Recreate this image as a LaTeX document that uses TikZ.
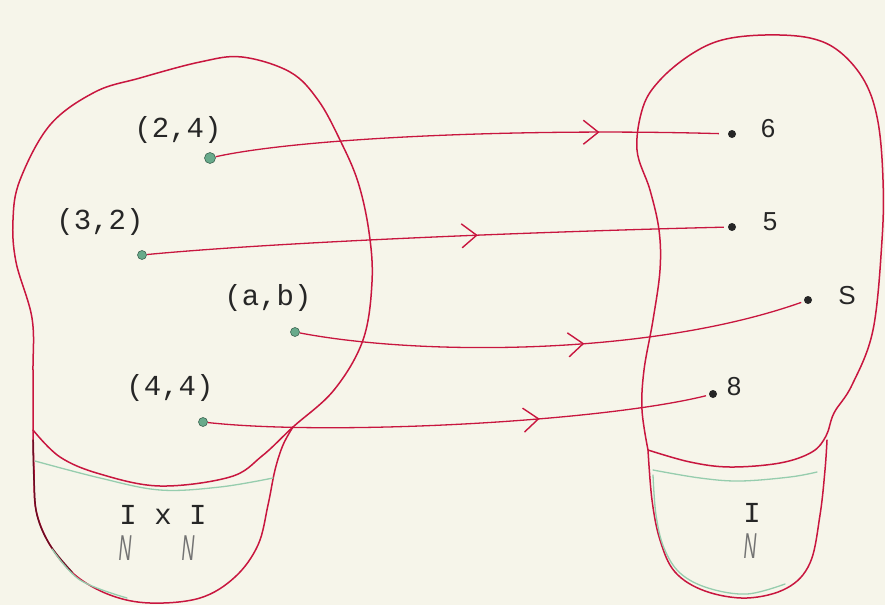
\documentclass[tikz,border=0pt]{standalone}
\usepackage{fontspec}
\setmainfont{Liberation Sans}
\newfontfamily\typew{Liberation Mono}
\usetikzlibrary{decorations.markings,arrows.meta}
\definecolor{bg}{HTML}{F6F5EA}
\definecolor{pen}{HTML}{C8163F}
\definecolor{pgreen}{HTML}{96CDAE}
\definecolor{dotgreen}{HTML}{68AA8B}
\begin{document}
\begin{tikzpicture}[x=1pt,y=-1pt,
  outline/.style={draw=pen, line width=1.5pt, line join=round, line cap=round},
  darkline/.style={draw=pen!55!black, line width=1.5pt, line cap=round},
  greenline/.style={draw=pgreen, line width=1.3pt, line cap=round},
  ldot/.style={circle, fill=dotgreen, draw=dotgreen!60!black, line width=0.6pt, inner sep=0pt, minimum size=9pt},
  rdot/.style={circle, fill=black!85, inner sep=0pt, minimum size=8pt},
  maparrow/.style={draw=pen, line width=1.3pt, postaction={decorate},
    decoration={markings, mark=at position #1 with {\arrow[pen, line width=1.4pt]{Straight Barb[length=15pt,width=24pt]}}}},
  pairlabel/.style={font=\typew\fontsize{29}{30}\selectfont, text=black!85, inner sep=0pt},
  numlabel/.style={font=\fontsize{26}{28}\selectfont, text=black!85, inner sep=0pt},
  setlabel/.style={font=\typew\fontsize{29}{30}\selectfont, text=black!85, inner sep=0pt},
  nlabel/.style={font=\itshape\fontsize{36}{36}\selectfont, text=black!55, inner sep=0pt}]
\fill[bg] (0,0) rectangle (885,605);
\useasboundingbox (0,0) rectangle (885,605);

% ---- left set (I x I) ----
\draw[outline] plot[smooth, tension=0.6] coordinates {
  (33,430) (33,370) (32,318) (16,262) (13,220) (20,180) (50,125) (95,92)
  (140,78) (200,62) (242,57) (290,72) (318,100) (340,140) (358,182)
  (369,232) (372,282) (363,340) (334,390) (293,427) (262,456) (230,477) (160,486)
  (100,474) (60,457) (33,430)};
\draw[outline] plot[smooth, tension=0.6] coordinates {
  (33,430) (34,470) (36,510) (50,545) (75,575) (110,595) (150,603)
  (200,598) (235,577) (258,545) (268,505) (275,470) (283,445) (293,427)};
\draw[darkline] plot[smooth, tension=0.6] coordinates {
  (33,440) (34,480) (37,515) (50,545) (72,572)};
\draw[greenline] plot[smooth, tension=0.6] coordinates {
  (35,461) (100,478) (160,490) (220,487) (273,478)};
\draw[greenline] plot[smooth, tension=0.6] coordinates {
  (52,549) (80,580) (127,598)};

% ---- right set (I) ----
\draw[outline] plot[smooth, tension=0.6] coordinates {
  (648,450) (642,410) (644,370) (653,320) (660,270) (659,230) (650,190)
  (637,150) (643,107) (660,80) (690,55) (722,40) (765,35) (810,38)
  (840,52) (865,82) (878,122) (883,180) (882,240) (873,330) (852,385)
  (834,413) (826,436) (812,452) (780,463) (730,467) (690,462) (648,450)};
\draw[outline] plot[smooth, tension=0.6] coordinates {
  (648,450) (652,500) (660,540) (675,572) (705,591) (747,598) (787,588)
  (810,563) (820,515) (825,470) (827,440)};
\draw[greenline] plot[smooth, tension=0.6] coordinates {
  (653,470) (700,478) (740,481) (790,477) (817,472)};
\draw[greenline] plot[smooth, tension=0.6] coordinates {
  (653,475) (656,515) (664,548) (680,573) (708,588) (747,594) (785,584)};

% ---- points ----
\node[ldot, minimum size=11pt] (p24) at (210,158) {};
\node[ldot] (p32) at (142,255) {};
\node[ldot] (pab) at (295,332) {};
\node[ldot] (p44) at (203,422) {};
\node[pairlabel] (l24) at (178,130) {(2,4)};
\node[pairlabel] (l32) at (100,222) {(3,2)};
\node[pairlabel] (lab) at (268,298) {(a,b)};
\node[pairlabel] (l44) at (170,388) {(4,4)};

\node[rdot] (r6) at (732,134) {};
\node[rdot] (r5) at (732,227) {};
\node[rdot] (rS) at (808,300) {};
\node[rdot] (r8) at (713,394) {};
\node[numlabel] (t6) at (768,129) {6};
\node[numlabel] (t5) at (770,222) {5};
\node[numlabel] (tS) at (847,296) {S};
\node[numlabel] (t8) at (734,387) {8};

% ---- set labels ----
\node[setlabel] (ixi) at (163,515) {I x I};
\node[nlabel] (n1) at (125,548) {\scalebox{0.5}[1]{N}};
\node[nlabel] (n2) at (188,548) {\scalebox{0.5}[1]{N}};
\node[setlabel] (iset) at (752,513) {I};
\node[nlabel] (n3) at (750,546) {\scalebox{0.5}[1]{N}};

% ---- mapping arrows ----
\draw[maparrow=0.75, shorten >=9pt] (p24) .. controls (300,138) and (520,128) .. (r6);
\draw[maparrow=0.57, shorten >=4pt] (p32) .. controls (300,240) and (600,230) .. (r5);
\draw[maparrow=0.56, shorten >=3pt] (pab) .. controls (420,356) and (650,356) .. (rS);
\draw[maparrow=0.66, shorten >=3pt] (p44) .. controls (330,436) and (600,422) .. (r8);
\end{tikzpicture}
\end{document}
